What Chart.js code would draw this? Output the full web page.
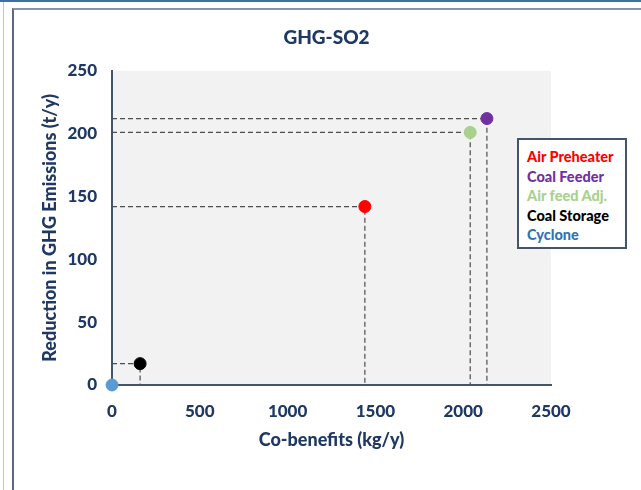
<!DOCTYPE html>
<html>
<head>
<meta charset="utf-8">
<script src="https://cdn.jsdelivr.net/npm/chart.js@4.4.1/dist/chart.umd.min.js"></script>
<style>
  html, body { margin: 0; padding: 0; background: #ffffff; }
  #wrap { position: relative; width: 641px; height: 490px; overflow: hidden; background: #fff; }
  #topbar { position: absolute; left: 0; top: 0; width: 641px; height: 2px; background: #3d6fa3; }
  #outerLeft { position: absolute; left: 3px; top: 2px; width: 1px; height: 488px; background: #c4c4c8; }
  #innerFrame { position: absolute; left: 12px; top: 8px; width: 640px; height: 500px; border-left: 2px solid #5e6782; border-top: 2px solid #8a92a8; }
  canvas { position: absolute; left: 0; top: 0; }
  #legend { position: absolute; left: 517px; top: 138px; width: 106px; height: 107px; border: 2px solid #44546a;
    background: #fff; box-sizing: content-box; padding: 0; }
  #legend div { position: absolute; left: 8px; font: 900 14.5px Lato, "Open Sans", sans-serif; line-height: 16px; white-space: nowrap; }
</style>
</head>
<body>
<div id="wrap">
  <div id="topbar"></div>
  <div id="outerLeft"></div>
  <div id="innerFrame"></div>
  <canvas id="c" width="641" height="490"></canvas>
  <div id="legend"></div>
</div>
<script>
const categories = ['Air Preheater', 'Coal Feeder', 'Air feed Adj.', 'Coal Storage', 'Cyclone'];
const coBenefits = [1440, 2135, 2040, 160, 0];      // kg/y
const ghgReduction = [142, 212, 201, 17, 0];        // t/y
const pointColors = ['#ff0000', '#7030a0', '#a9d18e', '#000000', '#5b9bd5'];
const legendColors = ['#ff0000', '#7030a0', '#a9d18e', '#000000', '#2e75b6'];
const xTicks = [0, 500, 1000, 1500, 2000, 2500];
const yTicks = [0, 50, 100, 150, 200, 250];

const navy = '#1f3864';
const fontFam = 'Lato, "Open Sans", sans-serif';

const pointSets = categories.map((name, i) => ({
  type: 'scatter',
  label: name,
  data: [{ x: coBenefits[i], y: ghgReduction[i] }],
  backgroundColor: pointColors[i],
  borderColor: pointColors[i],
  borderWidth: 1,
  pointRadius: 6,
  pointHoverRadius: 6,
  clip: false,
  order: 1
}));

const dashSets = categories.map((name, i) => ({
  type: 'line',
  label: name + ' guide',
  data: [{ x: 0, y: ghgReduction[i] }, { x: coBenefits[i], y: ghgReduction[i] }, { x: coBenefits[i], y: 0 }],
  borderColor: '#4d4d4d',
  borderWidth: 1.2,
  borderDash: [5, 3],
  pointRadius: 0,
  fill: false,
  tension: 0,
  clip: false,
  order: 2
}));

const bgPlugin = {
  id: 'plotBg',
  beforeDraw(chart) {
    const { ctx, chartArea: a } = chart;
    ctx.save();
    ctx.fillStyle = '#f2f2f2';
    ctx.fillRect(a.left, a.top, a.right - a.left, a.bottom - a.top);
    ctx.restore();
  }
};

new Chart(document.getElementById('c'), {
  data: { datasets: [...pointSets, ...dashSets] },
  plugins: [bgPlugin],
  options: {
    responsive: false,
    animation: false,
    layout: { padding: { left: 12, right: 0, top: 0, bottom: 0 } },
    plugins: {
      legend: { display: false },
      tooltip: { enabled: false },
      title: {
        display: true,
        text: 'GHG-SO2',
        color: navy,
        font: { family: fontFam, size: 19, weight: '900' },
        padding: { top: 26, bottom: 22 }
      }
    },
    scales: {
      x: {
        type: 'linear',
        position: 'bottom',
        min: 0, max: 2500,
        afterBuildTicks: (s) => { s.ticks = xTicks.map(v => ({ value: v })); },
        afterFit: (s) => { s.height = 105; },
        grid: { display: false, drawTicks: false },
        border: { display: true, color: '#44546a', width: 2 },
        ticks: { color: navy, padding: 16, maxRotation: 0, callback: (v) => String(v),
          font: { family: fontFam, size: 17, weight: '900' } },
        title: { display: true, text: 'Co-benefits (kg/y)', color: navy,
          font: { family: fontFam, size: 18, weight: '900' }, padding: { top: 0, bottom: 39 } }
      },
      y: {
        type: 'linear',
        position: 'left',
        min: 0, max: 250,
        afterBuildTicks: (s) => { s.ticks = yTicks.map(v => ({ value: v })); },
        afterFit: (s) => { s.width = 100; },
        grid: { display: false, drawTicks: false },
        border: { display: true, color: '#44546a', width: 2 },
        ticks: { color: navy, padding: 15, callback: (v) => String(v),
          font: { family: fontFam, size: 17, weight: '900' } },
        title: { display: true, text: 'Reduction in GHG Emissions (t/y)', color: navy,
          font: { family: fontFam, size: 18, weight: '900' }, padding: { top: 27, bottom: 0 } }
      },
      yRight: {
        type: 'linear',
        position: 'right',
        display: true,
        afterFit: (s) => { s.width = 90; },
        grid: { display: false, drawTicks: false },
        border: { display: false },
        ticks: { display: false }
      }
    }
  }
});

const legend = document.getElementById('legend');
categories.forEach((name, i) => {
  const d = document.createElement('div');
  d.textContent = name;
  d.style.color = legendColors[i];
  d.style.top = (9 + i * 19.5) + 'px';
  legend.appendChild(d);
});
</script>
</body>
</html>
